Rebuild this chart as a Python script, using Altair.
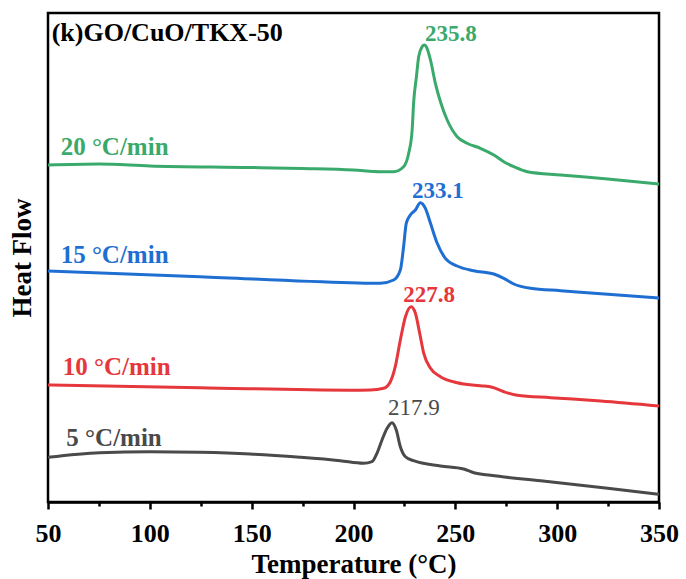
import altair as alt
import pandas as pd

# ---- data (Heat Flow in arbitrary units) ----
g_T = [50, 75, 100, 150, 175, 200, 213.2, 219.7, 224.6, 227.1, 228.8, 229.5, 230.9, 232.0, 233.7, 234.8,
       236.1, 237.8, 240.2, 242.7, 246.0, 250.9, 255.8, 262.3, 268.9, 273.8, 278.7, 285.3, 301.7, 324.8, 350]
g_H = [337, 338, 336, 334.5, 333.5, 332, 330.3, 330.3, 335.3, 348.7, 372, 398.7, 425.3, 445.3, 455.3, 457,
       453.7, 442, 418.7, 400.3, 382, 365.3, 358.7, 353.7, 347, 340.3, 335.3, 330.3, 327, 323, 318]

b_T = [50, 124.6, 198.4, 213.2, 219.7, 223.0, 224.6, 225.9, 227.9, 230.4, 232.8, 235.3, 237.8, 241.1, 245.1,
       250.9, 259.0, 268.9, 273.8, 278.7, 286.9, 301.7, 308.1, 350]
b_H = [231, 225.3, 219.3, 218.7, 222, 232, 255.3, 278.7, 287, 292, 299.3, 293.7, 278.7, 258.7, 243.7,
       236, 231.3, 228, 223.7, 218, 213.7, 211.3, 210.3, 204]

r_T = [50, 124.6, 198.4, 208.2, 214.8, 218.1, 220.5, 223.0, 225.5, 228.3, 230.4, 232.5, 234.5, 237.8, 242.7,
       250.9, 262.3, 268.1, 273.8, 280.4, 296.8, 321.4, 350]
r_H = [117, 114.3, 111.8, 112, 113.7, 120.3, 135.3, 162, 185.3, 195.3, 188.7, 168.7, 148.7, 133.7, 125.3,
       119.3, 116.3, 114.7, 110.3, 106.7, 104.3, 101, 96]

k_T = [50, 75.4, 100, 124.6, 149.2, 173.8, 193.5, 204.9, 209.1, 211.5, 214.0, 216.5, 218.9, 221.0, 223.0,
       225.5, 229.5, 242.7, 254.1, 259.1, 267.3, 291.9, 324.8, 350]
k_H = [44.7, 49.3, 50.3, 49.7, 48, 44.7, 41.3, 38.7, 40.3, 48.7, 62, 73.7, 79.3, 72, 55.3,
       45.3, 41.3, 36, 33, 29.3, 26.7, 21.3, 13.7, 7.7]

series = ["20 °C/min", "15 °C/min", "10 °C/min", "5 °C/min"]
colors = ["#3aaa6c", "#1f6fd2", "#e5373c", "#4a4a4a"]

lab_T = [56.2, 56.2, 57.2, 59.0]
lab_H = [347, 238.7, 127, 56.3]

peak_text = ["235.8", "233.1", "227.8", "217.9"]
peak_T = [247.8, 241.4, 237.1, 229.7]
peak_H = [461, 303.7, 200.3, 87]
peak_weight = ["bold", "bold", "bold", "normal"]

panel_title = "(k)GO/CuO/TKX-50"
title_T = [51.8]
title_H = [461.3]

x_ticks = list(range(50, 351, 25))

FONT = "Liberation Serif"

# ---- tables ----
rows = []
for name, T, H in zip(series, [g_T, b_T, r_T, k_T], [g_H, b_H, r_H, k_H]):
    for t, h in zip(T, H):
        rows.append({"series": name, "T": t, "H": h})
curves = pd.DataFrame(rows)

labels = pd.DataFrame({"series": series, "T": lab_T, "H": lab_H, "text": series})
peaks_df = pd.DataFrame({"series": series, "T": peak_T, "H": peak_H, "text": peak_text, "w": peak_weight})

xscale = alt.Scale(domain=[50, 350], nice=False, zero=False)
yscale = alt.Scale(domain=[0, 489], nice=False, zero=False)
cscale = alt.Scale(domain=series, range=colors)

xaxis = alt.Axis(
    values=x_ticks,
    labelExpr="datum.value % 50 === 0 ? datum.label : ''",
    tickSize={"condition": {"test": "datum.value % 50 === 0", "value": 7}, "value": 4},
    tickWidth=2.5, tickColor="black",
    domainColor="black", domainWidth=2.5,
    labelFont=FONT, labelFontSize=26, labelFontWeight="bold", labelColor="black",
    labelPadding=11, labelFlush=False, labelOverlap=False,
    title="Temperature (°C)", titleFont=FONT, titleFontSize=27, titleFontWeight="bold",
    titleColor="black", titlePadding=5, grid=False,
)
yaxis = alt.Axis(
    labels=False, ticks=False, domain=False, grid=False,
    title="Heat Flow", titleFont=FONT, titleFontSize=27, titleFontWeight="bold",
    titleColor="black", titlePadding=12,
)

base = alt.Chart(curves)
lines = base.mark_line(strokeWidth=3, interpolate="monotone").encode(
    x=alt.X("T:Q", scale=xscale, axis=xaxis),
    y=alt.Y("H:Q", scale=yscale, axis=yaxis),
    color=alt.Color("series:N", scale=cscale, legend=None),
    detail="series:N",
)

series_text = alt.Chart(labels).mark_text(
    align="left", baseline="alphabetic", font=FONT, fontSize=25, fontWeight="bold"
).encode(
    x=alt.X("T:Q", scale=xscale),
    y=alt.Y("H:Q", scale=yscale),
    text="text:N",
    color=alt.Color("series:N", scale=cscale, legend=None),
)

pb = peaks_df[peaks_df["w"] == "bold"]
pn = peaks_df[peaks_df["w"] == "normal"]
peak_b = alt.Chart(pb).mark_text(
    align="center", baseline="alphabetic", font=FONT, fontSize=23, fontWeight="bold"
).encode(
    x=alt.X("T:Q", scale=xscale), y=alt.Y("H:Q", scale=yscale), text="text:N",
    color=alt.Color("series:N", scale=cscale, legend=None),
)
peak_n = alt.Chart(pn).mark_text(
    align="center", baseline="alphabetic", font=FONT, fontSize=23, fontWeight="normal"
).encode(
    x=alt.X("T:Q", scale=xscale), y=alt.Y("H:Q", scale=yscale), text="text:N",
    color=alt.Color("series:N", scale=cscale, legend=None),
)

title_df = pd.DataFrame({"T": title_T, "H": title_H, "text": [panel_title]})
title_text = alt.Chart(title_df).mark_text(
    align="left", baseline="alphabetic", font=FONT, fontSize=26, fontWeight="bold", color="black"
).encode(
    x=alt.X("T:Q", scale=xscale), y=alt.Y("H:Q", scale=yscale), text="text:N",
)

chart = alt.layer(lines, series_text, peak_b, peak_n, title_text).properties(
    width=611, height=489,
    padding={"left": 48, "top": 13, "right": 27, "bottom": 77},
    autosize=alt.AutoSizeParams(type="none"),
    background="white",
).configure_view(stroke="black", strokeWidth=2.5)

chart.save("out.html", embed_options={"renderer": "svg", "actions": False})
